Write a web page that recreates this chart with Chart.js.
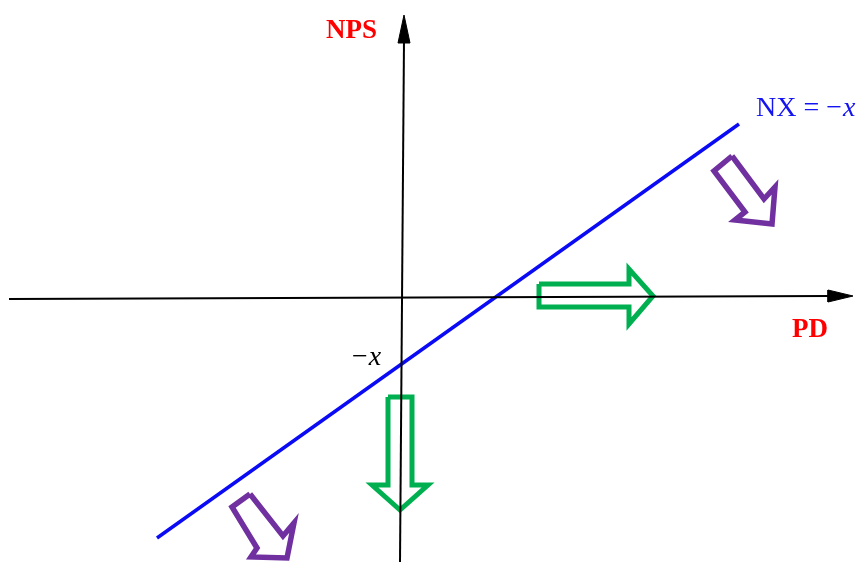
<!DOCTYPE html>
<html lang="en">
<head>
  <meta charset="UTF-8">
  <title>NX = -x diagram</title>
  <script src="https://cdn.jsdelivr.net/npm/chart.js"></script>
  <style>
    body { margin: 0; background: #fff; }
    #wrap { width: 861px; height: 562px; }
  </style>
</head>
<body>
  <div id="wrap"><canvas id="chart" width="861" height="562"></canvas></div>
  <script>
    // units: 1 = 100px, origin at the axes crossing
    const xRange = [-4.01, 4.60];
    const yRange = [-2.64, 2.98];

    // the NX = -x line
    const nxX = [-2.44, 3.38];
    const nxY = [-2.40, 1.74];

    // axes (line + filled arrowhead)
    const hAxisX = [-3.92, 4.29];
    const hAxisY = [-0.01, 0.02];
    const hHeadX = [4.52, 4.27, 4.27, 4.52];
    const hHeadY = [0.02, 0.08, -0.04, 0.02];
    const vAxisX = [-0.01, 0.03];
    const vAxisY = [-2.64, 2.58];
    const vHeadX = [0.03, -0.03, 0.09, 0.03];
    const vHeadY = [2.83, 2.55, 2.55, 2.83];

    // green outline arrows
    const greenRightX = [1.38, 2.28, 2.28, 2.52, 2.28, 2.28, 1.38, 1.38];
    const greenRightY = [0.14, 0.14, 0.29, 0.02, -0.26, -0.09, -0.09, 0.14];
    const greenDownX = [-0.13, 0.11, 0.11, 0.27, -0.01, -0.29, -0.13, -0.13];
    const greenDownY = [-0.99, -0.99, -1.87, -1.87, -2.12, -1.87, -1.87, -0.99];

    // purple outline arrows
    const purpleTopX = [3.31, 3.13, 3.44, 3.34, 3.71, 3.74, 3.63, 3.31];
    const purpleTopY = [1.42, 1.27, 0.86, 0.78, 0.74, 1.11, 0.99, 1.42];
    const purpleBotX = [-1.51, -1.69, -1.44, -1.50, -1.14, -1.07, -1.18, -1.51];
    const purpleBotY = [-1.96, -2.09, -2.50, -2.59, -2.60, -2.25, -2.38, -1.96];

    // text labels
    const labelText = ["NPS", "PD", "NX = \u2212", "\u2212"];
    const labelItalic = ["", "", "x", "x"];
    const labelX = [-0.75, 3.91, 3.55, -0.49];
    const labelY = [2.60, -0.39, 1.82, -0.67];

    function pts(xs, ys) {
      return xs.map((x, i) => ({ x: x, y: ys[i] }));
    }

    function outline(xs, ys, color, width) {
      return {
        data: pts(xs, ys),
        showLine: true,
        borderColor: color,
        borderWidth: width,
        borderJoinStyle: "miter",
        pointRadius: 0,
        fill: false,
        tension: 0
      };
    }

    function solid(xs, ys, color) {
      return {
        data: pts(xs, ys),
        showLine: true,
        borderColor: color,
        backgroundColor: color,
        borderWidth: 1,
        pointRadius: 0,
        fill: "shape",
        tension: 0
      };
    }

    const labelStyles = [
      { color: "#ff0000", font: "bold 27px 'Liberation Serif'" },
      { color: "#ff0000", font: "bold 27px 'Liberation Serif'" },
      { color: "#1414f0", font: "28px 'Liberation Serif'" },
      { color: "#000000", font: "28px 'Liberation Serif'" }
    ];

    const labelPlugin = {
      id: "labels",
      afterDatasetsDraw(chart) {
        const ctx = chart.ctx;
        const xs = chart.scales.x, ys = chart.scales.y;
        ctx.save();
        ctx.textAlign = "left";
        ctx.textBaseline = "alphabetic";
        labelText.forEach((t, i) => {
          const st = labelStyles[i];
          let px = xs.getPixelForValue(labelX[i]);
          const py = ys.getPixelForValue(labelY[i]);
          ctx.fillStyle = st.color;
          ctx.font = st.font;
          ctx.fillText(t, px, py);
          px += ctx.measureText(t).width;
          if (labelItalic[i]) {
            ctx.font = "italic " + st.font;
            ctx.fillText(labelItalic[i], px + 1, py);
          }
        });
        ctx.restore();
      }
    };

    new Chart(document.getElementById("chart"), {
      type: "scatter",
      data: {
        datasets: [
          outline(hAxisX, hAxisY, "#000000", 2),
          solid(hHeadX, hHeadY, "#000000"),
          outline(vAxisX, vAxisY, "#000000", 2),
          solid(vHeadX, vHeadY, "#000000"),
          outline(nxX, nxY, "#0a0af5", 3.5),
          outline(greenRightX, greenRightY, "#00b050", 5),
          outline(greenDownX, greenDownY, "#00b050", 5),
          outline(purpleTopX, purpleTopY, "#7030a0", 5.5),
          outline(purpleBotX, purpleBotY, "#7030a0", 5.5)
        ]
      },
      options: {
        responsive: false,
        animation: false,
        layout: { padding: 0 },
        plugins: { legend: { display: false }, tooltip: { enabled: false } },
        scales: {
          x: { type: "linear", display: false, min: xRange[0], max: xRange[1] },
          y: { type: "linear", display: false, min: yRange[0], max: yRange[1] }
        }
      },
      plugins: [labelPlugin]
    });
  </script>
</body>
</html>
